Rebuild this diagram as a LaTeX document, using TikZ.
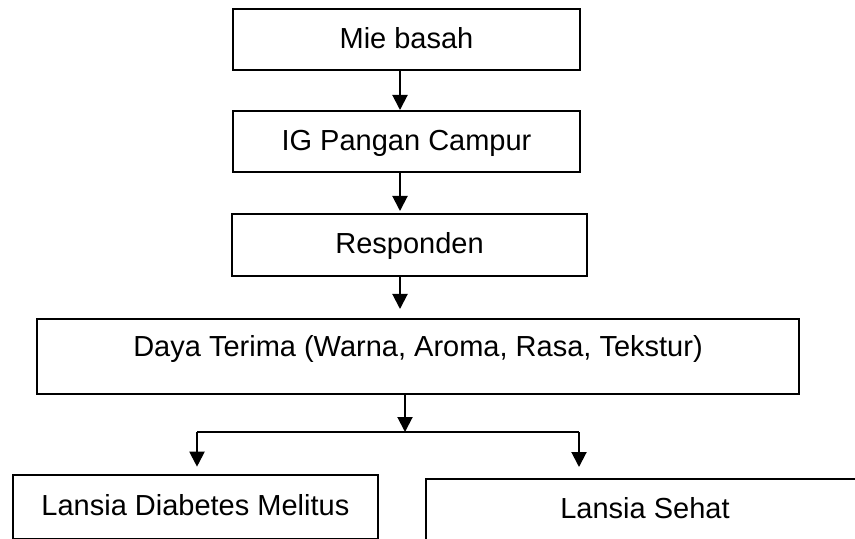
\documentclass[tikz,border=0pt]{standalone}
\usepackage{fontspec}
\setmainfont{Liberation Sans}
\usetikzlibrary{arrows.meta}

\tikzset{
  kotak/.style={draw, line width=1pt, inner sep=0pt, text height=0.8em, text depth=0.2em},
  panah/.style={draw, line width=1pt, -{Triangle[width=7.5pt,length=7.5pt]}}
}

\begin{document}
\begin{tikzpicture}[x=0.5pt, y=-0.5pt]
\fontsize{14.5}{17}\selectfont

\clip (0,0) rectangle (855,539);

\node[kotak, minimum width=173.5pt, minimum height=30.5pt] (mie) at (406.5,39.5) {Mie basah};
\node[kotak, minimum width=173.5pt, minimum height=30.5pt] (ig) at (406.5,141.5) {IG Pangan Campur};
\node[kotak, minimum width=177.5pt, minimum height=31pt] (resp) at (409.5,245) {Responden};
\node[kotak, minimum width=381pt, minimum height=37.5pt, text height=0.8em, text depth=0.8em] (daya) at (418,356.5) {Daya Terima (Warna, Aroma, Rasa, Tekstur)};

\node[kotak, minimum width=182.6pt, minimum height=32.2pt] (dm) at (195.4,506.9) {Lansia Diabetes Melitus};
\node[kotak, minimum width=219pt, minimum height=31pt] (sehat) at (645,510) {Lansia Sehat};

\coordinate (atas) at (400,0);
\coordinate (cabang) at (405,432);
\coordinate (kiri) at (197,432);
\coordinate (kanan) at (579,432);

\draw[panah] (mie.south -| atas) -- (ig.north -| atas);
\draw[panah, shorten >=1pt] (ig.south -| atas) -- (resp.north -| atas);
\draw[panah, shorten >=4.5pt] (resp.south -| atas) -- (daya.north -| atas);

\draw[panah] (daya.south -| cabang) -- (cabang);
\draw[line width=1pt] (kiri) -- (kanan);
\draw[panah, shorten >=3.5pt] (kiri) -- (dm.north -| kiri);
\draw[panah, shorten >=5.5pt] (kanan) -- (sehat.north -| kanan);
\end{tikzpicture}
\end{document}
